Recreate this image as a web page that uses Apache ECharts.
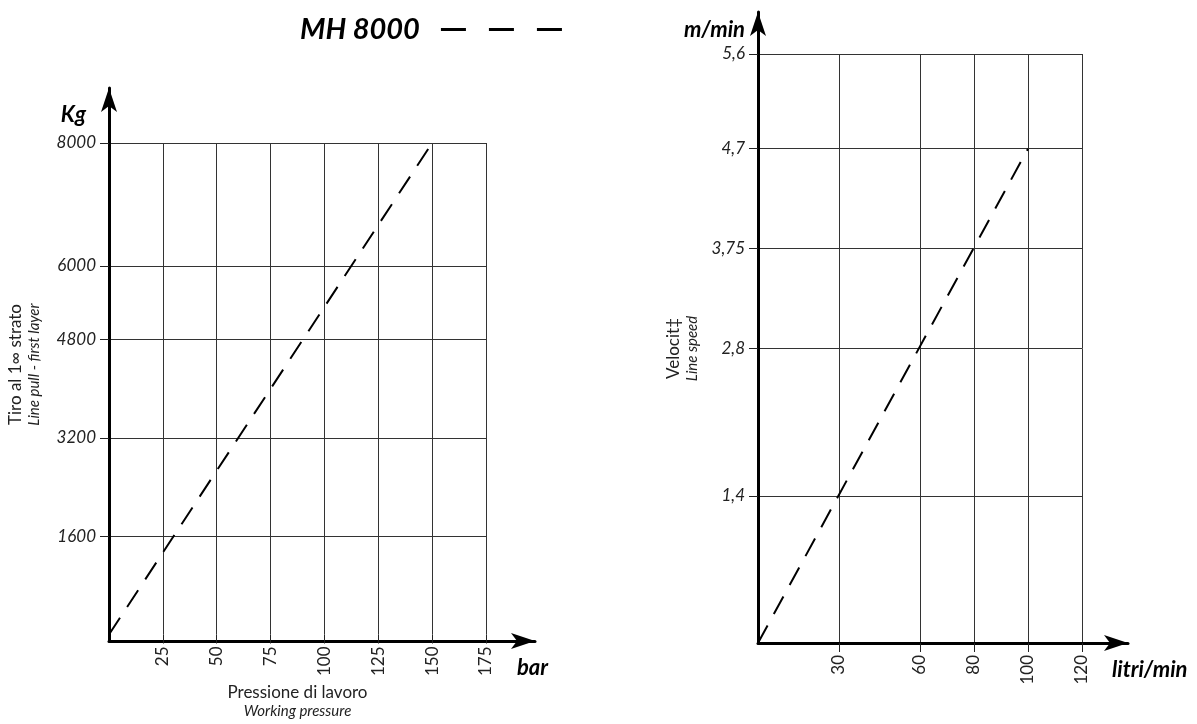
<!DOCTYPE html>
<html>
<head>
<meta charset="utf-8">
<script src="https://cdn.jsdelivr.net/npm/echarts@6/dist/echarts.min.js"></script>
<style>
  html, body { margin: 0; padding: 0; background: #fff; }
  #chart { width: 1197px; height: 724px; }
</style>
</head>
<body>
<div id="chart"></div>
<script>
// data
const pressureTicks = [25, 50, 75, 100, 125, 150, 175]
const pullTicks = [1600, 3200, 4800, 6000, 8000]
const flowTicks = [30, 60, 80, 100, 120]
const speedTicks = [1.4, 2.8, 3.75, 4.7, 5.6]

const pressureBar = [0, 150]
const pullKg = [0, 8000]
const flowLpm = [0, 100]
const speedMpm = [0, 4.7]

const seriesName = 'MH 8000'
const font = 'Lato, "DejaVu Sans", sans-serif'

const chart = echarts.init(document.getElementById('chart'))

const dash = { type: [20, 13], width: 2, color: '#000' }

// plot axis: ticks, labels and grid lines only
const plotAxis = (gridIndex, max, ticks, opts) => ({
  type: 'value',
  gridIndex,
  min: 0,
  max,
  axisLine: { show: false },
  axisTick: { show: true, customValues: ticks, length: 9, lineStyle: { color: '#222', width: 1 } },
  axisLabel: Object.assign({ customValues: ticks, color: '#222', fontFamily: font, fontSize: 17 }, opts.label),
  splitLine: { show: true, lineStyle: { color: '#333', width: 1 } },
  ...opts.extra
})

// arrow axis: only the thick line with arrow head
const arrowAxis = gridIndex => ({
  type: 'value',
  gridIndex,
  min: 0,
  max: 1,
  axisLine: { show: true, symbol: ['none', 'arrow'], symbolSize: [12, 24], lineStyle: { color: '#000', width: 3 } },
  axisTick: { show: false },
  axisLabel: { show: false },
  splitLine: { show: false }
})

const titleRich = {
  a: { fontFamily: font, fontSize: 17, color: '#222', lineHeight: 19, align: 'center' },
  b: { fontFamily: font, fontSize: 15, fontStyle: 'italic', color: '#222', lineHeight: 18, align: 'center' }
}

const option = {
  animation: false,
  legend: {
    data: [seriesName],
    left: 295,
    top: 10,
    align: 'right',
    icon: 'path://M0,0h25v3h-25zM48,0h25v3h-25zM96,0h25v3h-25z',
    itemWidth: 121,
    itemHeight: 3,
    itemStyle: { color: '#000' },
    textStyle: { fontFamily: font, fontSize: 29, fontWeight: 'bold', fontStyle: 'italic', color: '#000', padding: [0, 16, 0, 0] }
  },
  grid: [
    { left: 109, top: 143, width: 377, height: 498 },
    { left: 109, top: 88, width: 426, height: 553 },
    { left: 758, top: 54, width: 324, height: 589 },
    { left: 758, top: 12, width: 370, height: 631 }
  ],
  xAxis: [
    plotAxis(0, 175, pressureTicks, {
      label: { rotate: 90, margin: 12 },
      extra: {
        name: '{a|Pressione di lavoro}\n{b|Working pressure}',
        nameLocation: 'middle',
        nameGap: 49,
        nameTextStyle: { rich: titleRich }
      }
    }),
    arrowAxis(1),
    plotAxis(2, 120, flowTicks, { label: { rotate: 90, margin: 12 }, extra: {} }),
    arrowAxis(3)
  ],
  yAxis: [
    plotAxis(0, 8000, pullTicks, { label: { fontStyle: 'italic', margin: 13, formatter: v => String(v) }, extra: {} }),
    Object.assign(arrowAxis(1), {
      name: '{a|Tiro al 1∞ strato}\n{b|Line pull - first layer}',
      nameLocation: 'middle',
      nameRotate: 90,
      nameGap: 66,
      nameTextStyle: { rich: titleRich }
    }),
    plotAxis(2, 5.6, speedTicks, {
      label: { fontStyle: 'italic', margin: 13, formatter: v => String(v).replace('.', ',') },
      extra: {
        name: '{a|Velocit‡}\n{b|Line speed}',
        nameLocation: 'middle',
        nameRotate: 90,
        nameGap: 57,
        nameTextStyle: { rich: titleRich }
      }
    }),
    arrowAxis(3)
  ],
  graphic: [
    { type: 'text', x: 86, y: 115, style: { text: 'Kg', font: 'bold italic 22px ' + font, fill: '#000', textAlign: 'right', textVerticalAlign: 'middle' } },
    { type: 'text', x: 517, y: 668, style: { text: 'bar', font: 'bold italic 22px ' + font, fill: '#000', textAlign: 'left', textVerticalAlign: 'middle' } },
    { type: 'text', x: 745, y: 30, style: { text: 'm/min', font: 'bold italic 22px ' + font, fill: '#000', textAlign: 'right', textVerticalAlign: 'middle' } },
    { type: 'text', x: 1112, y: 670, style: { text: 'litri/min', font: 'bold italic 22px ' + font, fill: '#000', textAlign: 'left', textVerticalAlign: 'middle' } }
  ],
  series: [
    {
      name: seriesName,
      type: 'line',
      xAxisIndex: 0,
      yAxisIndex: 0,
      symbol: 'none',
      itemStyle: { color: '#000' },
      lineStyle: dash,
      data: pressureBar.map((p, i) => [p, pullKg[i]])
    },
    {
      name: seriesName,
      type: 'line',
      xAxisIndex: 2,
      yAxisIndex: 2,
      symbol: 'none',
      itemStyle: { color: '#000' },
      lineStyle: dash,
      data: flowLpm.map((f, i) => [f, speedMpm[i]])
    }
  ]
}

chart.setOption(option)
</script>
</body>
</html>
